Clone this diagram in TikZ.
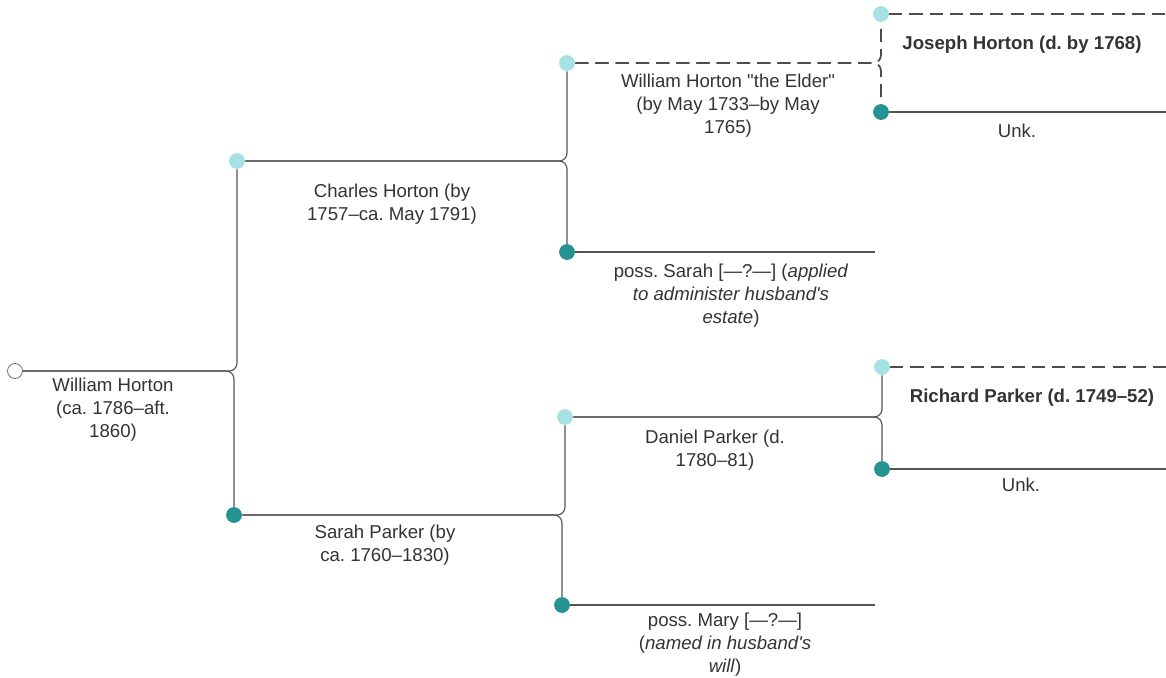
\documentclass[tikz,border=0pt]{standalone}
\usepackage{fontspec}
\setmainfont{Liberation Sans}
\frenchspacing
\definecolor{dotlight}{RGB}{166,226,227}
\definecolor{dotdark}{RGB}{36,147,145}
\definecolor{linegray}{RGB}{85,85,85}
\definecolor{textgray}{RGB}{51,51,51}
\tikzset{
	dotm/.style={circle,fill=dotlight,inner sep=0pt,minimum size=9pt},
	dotf/.style={circle,fill=dotdark,inner sep=0pt,minimum size=9pt},
	dotroot/.style={circle,draw=linegray!80,fill=white,line width=0.5pt,inner sep=0pt,minimum size=8.5pt},
	link/.style={draw=linegray,line width=0.65pt,rounded corners=4.5pt},
	dlink/.style={draw=linegray!90!black,line width=1pt,dash pattern=on 7.5pt off 4pt,rounded corners=4.5pt},
	lbl/.style={text=textgray,align=center,inner sep=0pt,font=\fontsize{10.6}{13}\selectfont},
	lblb/.style={lbl,font=\fontsize{10.6}{13}\selectfont\bfseries}
}
\begin{document}
\begin{tikzpicture}[x=0.02cm,y=-0.02cm]
		\useasboundingbox (0,0) rectangle (1166,677);
		%Punkte
		\node[dotroot] (root) at (15,371) {};
		\node[dotm] (fa) at (237,161) {};
		\node[dotf] (mo) at (234,515) {};
		\node[dotm] (ffa) at (567,63) {};
		\node[dotf] (fmo) at (567,252) {};
		\node[dotm] (mfa) at (565,417) {};
		\node[dotf] (mmo) at (562,605) {};
		\node[dotm] (fffa) at (881,14) {};
		\node[dotf] (ffmo) at (881,112) {};
		\node[dotm] (mffa) at (882,367) {};
		\node[dotf] (mfmo) at (882,469) {};
		% Enden
		\coordinate (e1) at (1166,14);
		\coordinate (e2) at (1166,112);
		\coordinate (e3) at (875,252);
		\coordinate (e4) at (1166,367);
		\coordinate (e5) at (1166,469);
		\coordinate (e6) at (875,605);
		% Verbindungen
		\draw[link] (root) -| (fa);
		\draw[link] (root) -| (mo);
		\draw[link] (fa) -| (ffa);
		\draw[link] (fa) -| (fmo);
		\draw[link] (mo) -| (mfa);
		\draw[link] (mo) -| (mmo);
		\draw[dlink] (ffa) -| (fffa);
		\draw[dlink] (ffa) -| (ffmo);
		\draw[link] (mfa) -| (mffa);
		\draw[link] (mfa) -| (mfmo);
		\draw[dlink] (fffa) -- (e1);
		\draw[link] (ffmo) -- (e2);
		\draw[link] (fmo) -- (e3);
		\draw[dlink] (mffa) -- (e4);
		\draw[link] (mfmo) -- (e5);
		\draw[link] (mmo) -- (e6);
		% Namen
		\node[lbl] (nWH) at (113,410) {William Horton\\(ca. 1786--aft.\\1860)};
		\node[lbl] (nCH) at (392,204) {Charles Horton (by\\1757--ca. May 1791)};
		\node[lbl] (nSP) at (385,545) {Sarah Parker (by\\ca. 1760--1830)};
		\node[lbl] (nWE) at (728,106) {William Horton \textquotedbl the Elder\textquotedbl\\(by May 1733--by May\\1765)};
		\node[lbl] (nSa) at (731,296) {poss. Sarah [---?---] (\textit{applied}\\\textit{to administer husband\textquotesingle s}\\\textit{estate})};
		\node[lbl] (nDP) at (715,450) {Daniel Parker (d.\\1780--81)};
		\node[lbl] (nMa) at (725,645) {poss. Mary [---?---]\\(\textit{named in husband\textquotesingle s}\\\textit{will})};
		\node[lblb] (nJH) at (1022,45) {Joseph Horton (d. by 1768)};
		\node[lbl] (nU1) at (1017,131) {Unk.};
		\node[lblb] (nRP) at (1032,398) {Richard Parker (d. 1749--52)};
		\node[lbl] (nU2) at (1021,485) {Unk.};
\end{tikzpicture}
\end{document}
